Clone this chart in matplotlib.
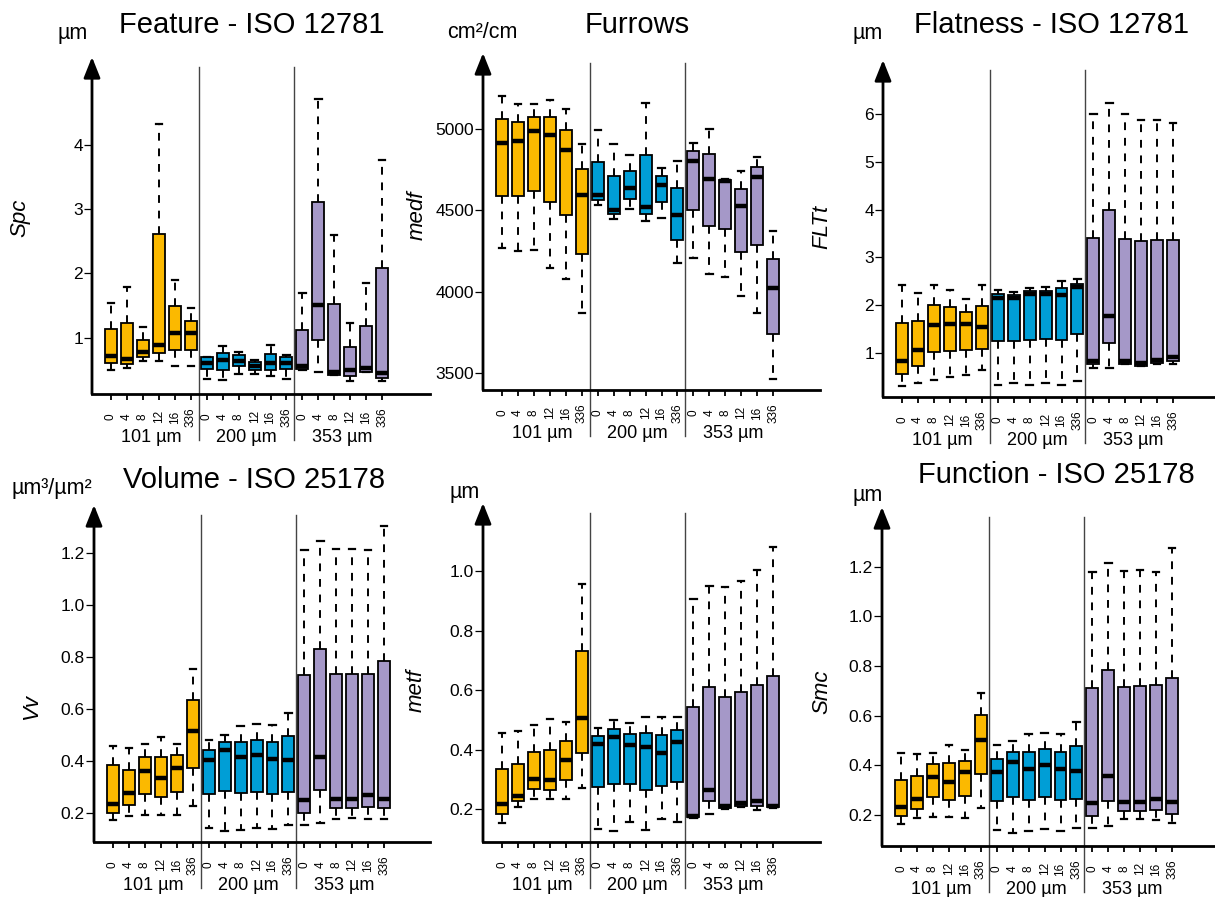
import matplotlib
matplotlib.use("Agg")
from matplotlib import pyplot as plt
from matplotlib import transforms

plt.rcParams["font.family"] = ["Liberation Sans", "DejaVu Sans"]

times = ["0", "4", "8", "12", "16", "336"]
groups = ["101 µm", "200 µm", "353 µm"]
colors = ["#FBB900", "#009ED6", "#A598C8"]

# each box: (low whisker, q1, median, q3, high whisker)
spc = [
    (0.50, 0.61, 0.715, 1.13, 1.53), (0.53, 0.59, 0.66, 1.22, 1.78), (0.64, 0.69, 0.77, 0.96, 1.17),
    (0.63, 0.76, 0.89, 2.61, 4.33), (0.56, 0.81, 1.07, 1.49, 1.90), (0.56, 0.81, 1.07, 1.26, 1.46),
    (0.36, 0.51, 0.60, 0.69, 0.70), (0.34, 0.49, 0.65, 0.76, 0.87), (0.43, 0.55, 0.64, 0.73, 0.78),
    (0.43, 0.50, 0.56, 0.62, 0.65), (0.40, 0.50, 0.60, 0.75, 0.89), (0.36, 0.51, 0.61, 0.69, 0.73),
    (0.49, 0.51, 0.55, 1.11, 1.69), (0.46, 0.96, 1.51, 3.11, 4.71), (0.42, 0.42, 0.46, 1.52, 2.60),
    (0.33, 0.40, 0.50, 0.85, 1.22), (0.46, 0.47, 0.52, 1.18, 1.85), (0.32, 0.37, 0.45, 2.09, 3.77),
]
medf = [
    (4268, 4586, 4914, 5062, 5205), (4248, 4586, 4924, 5041, 5156), (4258, 4621, 4986, 5074, 5156),
    (4145, 4551, 4963, 5074, 5180), (4078, 4469, 4869, 4996, 5123), (3868, 4231, 4596, 4754, 4908),
    (4531, 4565, 4596, 4795, 4992), (4449, 4477, 4500, 4709, 4910), (4508, 4570, 4637, 4740, 4842),
    (4432, 4477, 4520, 4840, 5160), (4451, 4551, 4654, 4709, 4760), (4176, 4319, 4473, 4635, 4805),
    (4207, 4504, 4805, 4863, 4914), (4110, 4401, 4692, 4846, 5000), (4090, 4385, 4682, 4688, 4695),
    (3971, 4244, 4524, 4633, 4744), (3868, 4285, 4704, 4764, 4826), (3463, 3741, 4022, 4200, 4375),
]
fltt = [
    (0.30, 0.56, 0.83, 1.63, 2.43), (0.37, 0.73, 1.07, 1.66, 2.26), (0.44, 1.02, 1.59, 2.01, 2.43),
    (0.49, 1.05, 1.61, 1.96, 2.32), (0.55, 1.07, 1.61, 1.85, 2.12), (0.65, 1.09, 1.54, 1.98, 2.42),
    (0.34, 1.26, 2.16, 2.23, 2.32), (0.37, 1.26, 2.16, 2.22, 2.28), (0.34, 1.28, 2.23, 2.30, 2.36),
    (0.37, 1.29, 2.23, 2.30, 2.38), (0.34, 1.28, 2.22, 2.35, 2.50), (0.41, 1.40, 2.39, 2.45, 2.55),
    (0.69, 0.77, 0.84, 3.40, 5.99), (0.69, 1.22, 1.77, 4.00, 6.23), (0.78, 0.78, 0.83, 3.38, 5.99),
    (0.72, 0.73, 0.79, 3.34, 5.88), (0.77, 0.79, 0.85, 3.37, 5.88), (0.76, 0.84, 0.91, 3.37, 5.81),
]
vv = [
    (0.172, 0.201, 0.236, 0.383, 0.458), (0.187, 0.232, 0.278, 0.364, 0.450), (0.191, 0.274, 0.360, 0.415, 0.467),
    (0.191, 0.262, 0.335, 0.415, 0.492), (0.191, 0.281, 0.374, 0.424, 0.467), (0.227, 0.371, 0.514, 0.633, 0.755),
    (0.140, 0.272, 0.403, 0.441, 0.480), (0.129, 0.285, 0.444, 0.472, 0.501), (0.136, 0.277, 0.415, 0.473, 0.533),
    (0.140, 0.281, 0.424, 0.482, 0.541), (0.138, 0.272, 0.409, 0.471, 0.537), (0.153, 0.281, 0.405, 0.495, 0.585),
    (0.153, 0.201, 0.251, 0.730, 1.210), (0.163, 0.287, 0.415, 0.830, 1.246), (0.178, 0.217, 0.255, 0.733, 1.214),
    (0.182, 0.219, 0.255, 0.736, 1.214), (0.176, 0.221, 0.268, 0.736, 1.210), (0.178, 0.219, 0.255, 0.783, 1.304),
]
metf = [
    (0.153, 0.183, 0.217, 0.336, 0.455), (0.206, 0.226, 0.243, 0.352, 0.461), (0.235, 0.268, 0.301, 0.392, 0.483),
    (0.234, 0.265, 0.299, 0.399, 0.503), (0.234, 0.296, 0.364, 0.430, 0.492), (0.271, 0.388, 0.506, 0.732, 0.956),
    (0.133, 0.274, 0.420, 0.446, 0.472), (0.125, 0.284, 0.442, 0.469, 0.498), (0.155, 0.285, 0.416, 0.452, 0.489),
    (0.128, 0.265, 0.407, 0.455, 0.508), (0.166, 0.278, 0.388, 0.450, 0.511), (0.155, 0.290, 0.424, 0.467, 0.511),
    (0.170, 0.172, 0.178, 0.543, 0.907), (0.183, 0.226, 0.265, 0.609, 0.951), (0.200, 0.203, 0.209, 0.576, 0.945),
    (0.207, 0.211, 0.220, 0.593, 0.967), (0.198, 0.211, 0.226, 0.616, 1.004), (0.203, 0.206, 0.211, 0.646, 1.080),
]
smc = [
    (0.164, 0.197, 0.234, 0.341, 0.449), (0.187, 0.224, 0.265, 0.355, 0.446), (0.193, 0.271, 0.352, 0.404, 0.451),
    (0.191, 0.260, 0.332, 0.408, 0.482), (0.187, 0.278, 0.372, 0.419, 0.462), (0.227, 0.365, 0.502, 0.601, 0.693),
    (0.140, 0.256, 0.372, 0.424, 0.480), (0.129, 0.271, 0.412, 0.453, 0.496), (0.137, 0.260, 0.384, 0.455, 0.527),
    (0.142, 0.271, 0.402, 0.466, 0.532), (0.137, 0.260, 0.384, 0.453, 0.527), (0.149, 0.265, 0.377, 0.478, 0.576),
    (0.149, 0.197, 0.247, 0.713, 1.178), (0.157, 0.258, 0.357, 0.785, 1.215), (0.183, 0.216, 0.251, 0.717, 1.181),
    (0.183, 0.217, 0.254, 0.720, 1.188), (0.181, 0.220, 0.265, 0.724, 1.178), (0.169, 0.203, 0.251, 0.751, 1.273),
]

W, H = 1215, 897
SPACING = 15.95   # px between neighbouring boxes
OFFSET = 19       # px from y axis to first box

# (data, title, unit, ylabel, yticks, ylim, ticklabel fmt,
#  axes px: left, right, top, bottom,  title centre px, unit centre px, ylabel centre px)
panels = [
    (spc, "Feature - ISO 12781", "µm", "Spc", [1, 2, 3, 4], (0.12, 5.37), "{:g}",
     (92, 430, 57, 394), (252, 25), (73, 33), (20, 218)),
    (medf, "Furrows", "cm²/cm", "medf", [3500, 4000, 4500, 5000], (3396, 5467), "{:g}",
     (483, 820, 53, 390), (637, 25), (482, 33), (417, 215)),
    (fltt, "Flatness - ISO 12781", "µm", "FLTt", [1, 2, 3, 4, 5, 6], (0.08, 7.13), "{:g}",
     (883, 1225, 60, 397), (1052, 25), (868, 33), (822, 227)),
    (vv, "Volume - ISO 25178", "µm³/µm²", "Vv", [0.2, 0.4, 0.6, 0.8, 1.0, 1.2], (0.088, 1.385), "{:.1f}",
     (94, 430, 505, 842), (254, 480), (52, 488), (32, 707)),
    (metf, "", "µm", "metf", [0.2, 0.4, 0.6, 0.8, 1.0], (0.089, 1.229), "{:.1f}",
     (483, 820, 503, 842), None, (465, 492), (416, 690)),
    (smc, "Function - ISO 25178", "µm", "Smc", [0.2, 0.4, 0.6, 0.8, 1.0, 1.2], (0.075, 1.44), "{:.1f}",
     (882, 1225, 507, 846), (1056, 475), (868, 495), (822, 692)),
]

fig = plt.figure(figsize=(W / 100, H / 100), dpi=100)

for data, title, unit, ylabel, yticks, ylim, fmt, box, tpos, upos, lpos in panels:
    left, right, top, bottom = box
    ax = fig.add_axes([left / W, 1 - bottom / H, (right - left) / W, (bottom - top) / H])
    ax.patch.set_alpha(0)

    stats = []
    for lo, q1, med, q3, hi in data:
        stats.append(dict(whislo=lo, q1=q1, med=med, q3=q3, whishi=hi, fliers=[]))
    pos = list(range(len(stats)))
    parts = ax.bxp(stats, positions=pos, widths=0.75, capwidths=0.4, patch_artist=True,
                   showfliers=False,
                   boxprops=dict(edgecolor="black", linewidth=1.3),
                   medianprops=dict(color="black", linewidth=3.2, solid_capstyle="butt"),
                   whiskerprops=dict(color="black", linewidth=1.4, linestyle=(0, (4, 4))),
                   capprops=dict(color="black", linewidth=1.6))
    for i, patch in enumerate(parts["boxes"]):
        patch.set_facecolor(colors[i // 6])

    width_px = right - left
    ax.set_xlim(-OFFSET / SPACING, (width_px - OFFSET) / SPACING)
    ax.set_ylim(*ylim)

    ax.spines["top"].set_visible(False)
    ax.spines["right"].set_visible(False)
    ax.spines["left"].set_visible(False)
    ax.spines["bottom"].set_linewidth(2)
    ax.annotate("", xy=(0, 1), xytext=(0, 0), xycoords="axes fraction",
                arrowprops=dict(arrowstyle="-|>,head_length=0.45,head_width=0.18", lw=2,
                                color="black", mutation_scale=28, shrinkA=0, shrinkB=0))

    ax.set_xticks(pos)
    ax.set_xticklabels(times * 3, rotation=90, va="center", fontsize=8.5)
    ax.tick_params(axis="x", length=4.5, width=1.3, pad=12)
    ax.set_yticks(yticks)
    ax.set_yticklabels([fmt.format(v) for v in yticks], fontsize=12.5)
    ax.tick_params(axis="y", length=5.5, width=0.9, pad=1)

    h_px = bottom - top
    trans = transforms.blended_transform_factory(ax.transData, ax.transAxes)
    sep_top = 1 - 10 / h_px
    sep_bot = -46 / h_px
    for xs in (5.5, 11.5):
        ax.plot([xs, xs], [sep_bot, sep_top], color="#444444", lw=1.0, transform=trans, clip_on=False)
    for g, name in enumerate(groups):
        ax.text(g * 6 + 2.5, -43 / h_px, name, transform=trans, ha="center", va="center", fontsize=13)

    if tpos:
        fig.text(tpos[0] / W, 1 - tpos[1] / H, title, ha="center", va="center", fontsize=21)
    fig.text(upos[0] / W, 1 - upos[1] / H, unit, ha="center", va="center", fontsize=15.5)
    fig.text(lpos[0] / W, 1 - lpos[1] / H, ylabel, ha="center", va="center", fontsize=16,
             style="italic", rotation=90)

fig.savefig("out.png", dpi=100)
